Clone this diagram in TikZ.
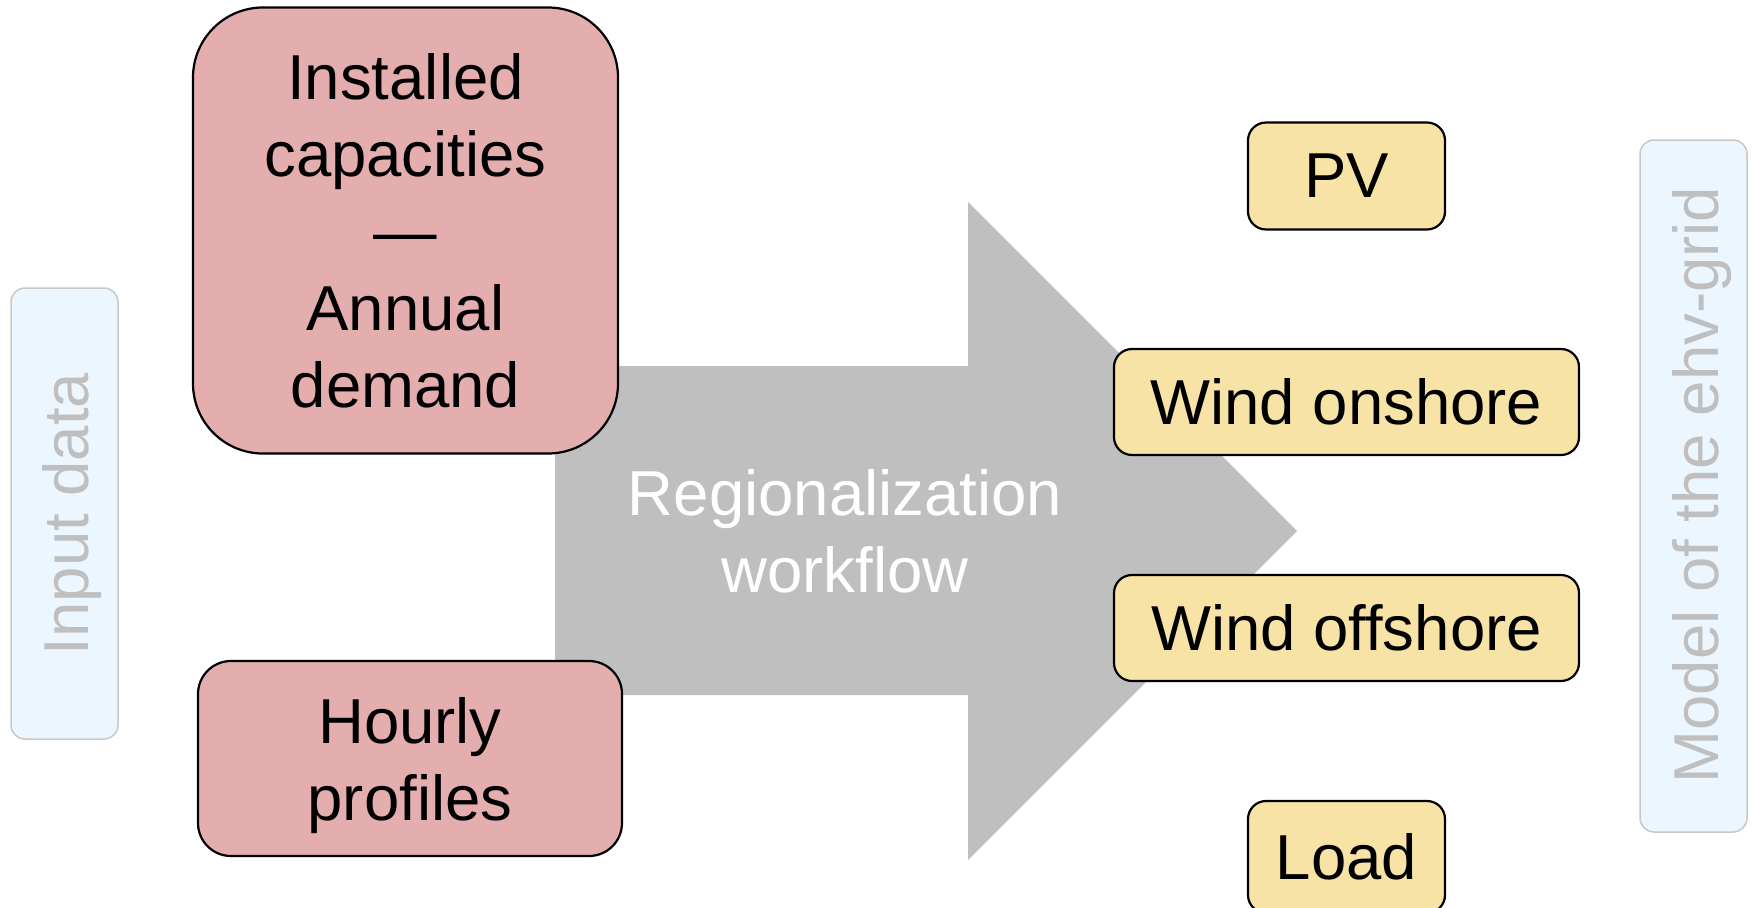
\documentclass[tikz,border=0pt]{standalone}
\usepackage{fontspec}
\setmainfont{Liberation Sans}
\definecolor{pinkfill}{HTML}{E4AEAE}
\definecolor{yellowfill}{HTML}{F6E3A5}
\definecolor{sidefill}{HTML}{EBF6FE}
\definecolor{sideline}{HTML}{C8C8C8}
\definecolor{sidetextc}{HTML}{BFBFBF}
\definecolor{arrowgray}{HTML}{BFBFBF}
\tikzset{
  bigfont/.style={font=\fontsize{63.5}{77}\selectfont},
  inbox/.style={draw=black, line width=2.2pt, fill=pinkfill, inner sep=0pt, align=center, bigfont},
  outbox/.style={draw=black, line width=2.2pt, fill=yellowfill, inner sep=0pt, align=center, bigfont, rounded corners=18pt},
  sidebox/.style={draw=sideline, line width=1.5pt, fill=sidefill, inner sep=0pt, rounded corners=14pt},
  sidelabel/.style={text=sidetextc, inner sep=0pt, bigfont, rotate=90},
}
\begin{document}
\begin{tikzpicture}[x=1pt,y=-1pt]
\useasboundingbox (0,0) rectangle (1752,907);
% big grey arrow
\fill[arrowgray] (555,366) -- (968,366) -- (968,202) -- (1297,531) -- (968,860) -- (968,695) -- (555,695) -- cycle;
\node[text=white, inner sep=0pt, align=center, bigfont] (reg) at (845,531) {Regionalization\\workflow};
% side boxes
\node[sidebox, minimum width=107pt, minimum height=451pt] (inframe) at (64.5,513.5) {};
\node[sidelabel] (inlabel) at (72.5,514) {Input data};
\node[sidebox, minimum width=107pt, minimum height=692pt] (outframe) at (1693.5,486) {};
\node[sidelabel] (outlabel) at (1702,485) {Model of the ehv-grid};
% input boxes
\node[inbox, rounded corners=70pt, minimum width=425pt, minimum height=446pt] (inst) at (405.5,230.5) {Installed\\capacities\\—\\Annual\\demand};
\node[inbox, rounded corners=33pt, minimum width=424pt, minimum height=195pt, text depth=0pt] (hourly) at (410,758.5) {Hourly\\profiles};
% output boxes
\node[outbox, minimum width=197pt, minimum height=107pt] (pv) at (1346.5,176) {PV};
\node[outbox, minimum width=465pt, minimum height=106pt] (won) at (1346.5,402) {Wind onshore};
\node[outbox, minimum width=465pt, minimum height=106pt] (woff) at (1346.5,628) {Wind offshore};
\node[outbox, minimum width=197pt, minimum height=112pt] (load) at (1346.5,857) {Load};
\end{tikzpicture}
\end{document}
